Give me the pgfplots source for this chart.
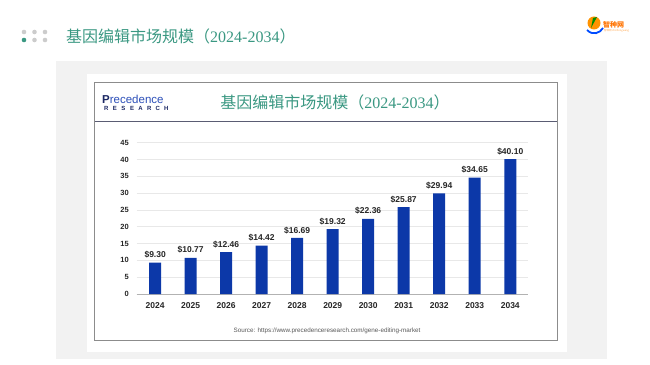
\documentclass[border=0pt]{standalone}
\usepackage{fontspec}
\setmainfont{Liberation Sans}
\newfontfamily\cjk{Noto Sans CJK SC}
\newfontfamily\serif{Liberation Serif}
\usepackage{pgfplots}
\pgfplotsset{compat=1.18}
\definecolor{teal1}{RGB}{58,152,130}
\definecolor{panel}{RGB}{242,242,242}
\definecolor{barblue}{RGB}{12,56,168}
\definecolor{boxgray}{RGB}{140,140,140}
\definecolor{divider}{RGB}{90,92,115}
\definecolor{gridc}{RGB}{232,232,232}
\definecolor{navy}{RGB}{28,40,100}
\definecolor{logoblue}{RGB}{45,80,185}
\begin{document}
\begin{tikzpicture}[x=1pt,y=1pt]
% background
\fill[white] (0,0) rectangle (650,364);
\fill[panel] (56,5) rectangle (607,303);
\fill[white] (86.5,12) rectangle (567,290);
\draw[boxgray, line width=0.8pt] (94.5,23.5) rectangle (557,282);
\draw[divider, line width=0.8pt] (94.5,243) -- (557,243);
% header dots
\foreach \x in {24,34.5,45} {\fill[gray!40] (\x,332) circle (2.3);}
\fill[teal1] (24,324) circle (2.3);
\foreach \x in {34.5,45} {\fill[gray!40] (\x,324) circle (2.3);}
% header title
\node[anchor=west, text=teal1, inner sep=0pt] at (66,328) {\fontsize{16}{18}\selectfont\cjk 基因编辑市场规模（\serif 2024-2034\cjk ）};
% logo top right
\fill[orange!85!yellow] (594,341) circle (6.5);
\fill[green!55!black] (591,336) -- (597,347) -- (593,346) -- cycle;
\draw[blue!70!cyan, line width=1.8pt] (587,334) .. controls (593,328) and (600,331) .. (603,336);
\node[anchor=west, inner sep=0pt, text=orange!90!red] at (603,339) {\fontsize{7}{8}\selectfont\cjk\bfseries 智种网};
\node[anchor=west, inner sep=0pt, text=orange!70] at (604,333) {\fontsize{2.5}{3}\selectfont\cjk 智种网 zhizhongwang};
% Precedence logo
\node[anchor=west, inner sep=0pt] at (102,265) {\fontsize{11.5}{12}\selectfont\textcolor{navy}{\bfseries P}\textcolor{logoblue}{recedence}};
\foreach \l [count=\i] in {R,E,S,E,A,R,C,H} {
  \node[inner sep=0pt, text=navy] at (97.6+\i*8.6,256) {\fontsize{6}{7}\selectfont\bfseries \l};
}
% inner title
\node[text=teal1, inner sep=0pt] at (335,261.3) {\fontsize{16}{18}\selectfont\cjk 基因编辑市场规模（\serif 2024-2034\cjk ）};
% source
\node[text=black!65, inner sep=0pt] at (327,33.3) {\fontsize{6.3}{7}\selectfont Source: https://www.precedenceresearch.com/gene-editing-market};
\begin{axis}[
  at={(136.7pt,70pt)}, anchor=south west,
  scale only axis, width=391.3pt, height=151.3pt,
  xmin=-0.52, xmax=10.5, ymin=0, ymax=45,
  axis x line*=bottom, axis y line*=left,
  x axis line style={draw=black!30, line width=0.8pt},
  y axis line style={draw=none},
  ytick={0,5,...,45},
  ymajorgrids, grid style={gridc, line width=0.6pt},
  xtick=data,
  xticklabels={2024,2025,2026,2027,2028,2029,2030,2031,2032,2033,2034},
  major tick length=0pt,
  /pgf/number format/assume math mode=true,
  xticklabel style={font=\fontsize{8.5}{9}\selectfont\bfseries, text=black!85, inner sep=0pt, yshift=-8pt},
  yticklabel style={font=\fontsize{7.5}{8}\selectfont\bfseries, text=black!85, inner sep=0pt, xshift=-7.7pt},
  ybar, bar width=12pt,
  nodes near coords={\$\pgfmathprintnumber[fixed,fixed zerofill,precision=2]{\pgfplotspointmeta}},
  nodes near coords style={font=\fontsize{8.5}{9}\selectfont\bfseries, text=black!85, inner sep=0pt, anchor=south, yshift=4pt},
]
\addplot[fill=barblue, draw=none] coordinates {
 (0,9.30) (1,10.77) (2,12.46) (3,14.42) (4,16.69) (5,19.32)
 (6,22.36) (7,25.87) (8,29.94) (9,34.65) (10,40.10)};
\end{axis}
\end{tikzpicture}
\end{document}
